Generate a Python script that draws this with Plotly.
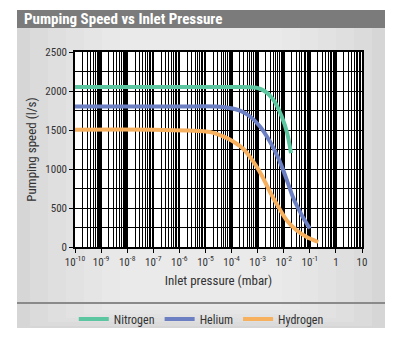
import plotly.graph_objects as go

# ---- data ----
n2_p = [1e-10, 1e-6, 1e-4, 9.1e-4, 1.9e-3, 4.0e-3, 8.3e-3, 1.35e-2, 1.9e-2]
n2_s = [2052, 2052, 2050, 2041, 1997, 1890, 1676, 1461, 1203]

he_p = [1e-10, 1e-6, 4.8e-5, 2.1e-4, 5.0e-4, 1.23e-3, 2.95e-3, 6.2e-3, 1.12e-2, 2.35e-2, 4.9e-2, 0.1]
he_s = [1802, 1802, 1796, 1749, 1676, 1546, 1353, 1139, 924, 624, 409, 237]

h2_p = [1e-10, 1e-7, 1.48e-5, 4.8e-5, 1.15e-4, 2.8e-4, 6.8e-4, 1.41e-3, 2.95e-3, 6.2e-3,
        1.29e-2, 3.1e-2, 7.6e-2, 0.21]
h2_s = [1504, 1503, 1475, 1418, 1353, 1259, 1095, 924, 709, 515, 344, 215, 129, 64]

x_tickvals = [1e-10, 1e-9, 1e-8, 1e-7, 1e-6, 1e-5, 1e-4, 1e-3, 1e-2, 1e-1, 1, 10]
x_ticktext = ["10<sup>-10</sup>", "10<sup>-9</sup>", "10<sup>-8</sup>", "10<sup>-7</sup>",
              "10<sup>-6</sup>", "10<sup>-5</sup>", "10<sup>-4</sup>", "10<sup>-3</sup>",
              "10<sup>-2</sup>", "10<sup>-1</sup>", "1", "10"]
y_tickvals = [0, 500, 1000, 1500, 2000, 2500]

FONT = "Liberation Sans Narrow, Roboto Condensed, Arial Narrow, Roboto, sans-serif"

W, H = 401, 342
L, R, T, B = 75, 362, 52, 247


def px_x(p):
    return (p - L) / (R - L)


def px_y(p):
    return (B - p) / (B - T)


fig = go.Figure()
series = [("Nitrogen", n2_p, n2_s, "#5cc6a0"),
          ("Helium", he_p, he_s, "#6b7fc2"),
          ("Hydrogen", h2_p, h2_s, "#f7b05e")]
for name, xs, ys, col in series:
    fig.add_trace(go.Scatter(x=xs, y=ys, name=name, mode="lines",
                             line=dict(color=col, width=4, shape="spline", smoothing=0.8)))

shapes = [
    # panel background
    dict(type="rect", xref="paper", yref="paper", x0=px_x(17), x1=px_x(385),
         y0=px_y(328), y1=px_y(28), fillcolor="#d6d6d6", line=dict(width=0), layer="below"),
]
# soft lighter centre (stepped gradient)
for i in range(6):
    shapes.append(dict(type="rect", xref="paper", yref="paper",
                       x0=px_x(30 + i * 18), x1=px_x(372 - i * 18),
                       y0=px_y(326 - i * 4), y1=px_y(28),
                       fillcolor="white", opacity=0.12, line=dict(width=0), layer="below"))
shapes += [
    # title bar
    dict(type="rect", xref="paper", yref="paper", x0=px_x(17), x1=px_x(385),
         y0=px_y(28), y1=px_y(10), fillcolor="#7b7b7b", line=dict(width=0), layer="below"),
    # separator
    dict(type="line", xref="paper", yref="paper", x0=px_x(17), x1=px_x(385),
         y0=px_y(303), y1=px_y(303), line=dict(color="#8a8a8a", width=2), layer="below"),
    # plot area white
    dict(type="rect", xref="paper", yref="paper", x0=0, x1=1, y0=0, y1=1,
         fillcolor="white", line=dict(width=0), layer="below"),
]

fig.update_layout(
    width=W, height=H,
    margin=dict(l=L, r=W - R, t=T, b=H - B, autoexpand=False),
    paper_bgcolor="white", plot_bgcolor="rgba(0,0,0,0)",
    font=dict(family=FONT, size=11, color="#333333"),
    shapes=shapes,
    showlegend=True,
    legend=dict(orientation="h", x=0.44, xanchor="center", y=px_y(319), yanchor="middle",
                font=dict(size=12, color="#333333"), bgcolor="rgba(0,0,0,0)",
                itemwidth=30, tracegroupgap=0),
    annotations=[dict(text="<b>Pumping Speed vs Inlet Pressure</b>", xref="paper", yref="paper",
                      x=px_x(22), y=px_y(19), xanchor="left", yanchor="middle", showarrow=False,
                      font=dict(family=FONT, size=15, color="white"))],
)

fig.update_xaxes(type="log", range=[-10, 1], tickmode="array", tickvals=x_tickvals,
                 ticktext=x_ticktext, showgrid=True, gridcolor="black", gridwidth=2,
                 ticks="outside", ticklen=4, tickcolor="black",
                 showline=True, linecolor="black", linewidth=1.5, mirror=True,
                 minor=dict(showgrid=True, gridcolor="black", gridwidth=1, dtick="D1"),
                 title=dict(text="Inlet pressure (mbar)", font=dict(size=13), standoff=8),
                 zeroline=False, fixedrange=True)
fig.update_yaxes(range=[0, 2500], tickmode="array", tickvals=y_tickvals,
                 showgrid=True, gridcolor="black", gridwidth=1.2,
                 ticks="outside", ticklen=4, tickcolor="black",
                 showline=True, linecolor="black", linewidth=1.5, mirror=True,
                 minor=dict(showgrid=True, gridcolor="black", gridwidth=1, dtick=250),
                 title=dict(text="Pumping speed (l/s)", font=dict(size=13), standoff=6),
                 zeroline=False, fixedrange=True)

fig.write_html("out.html", config=dict(displayModeBar=False))
